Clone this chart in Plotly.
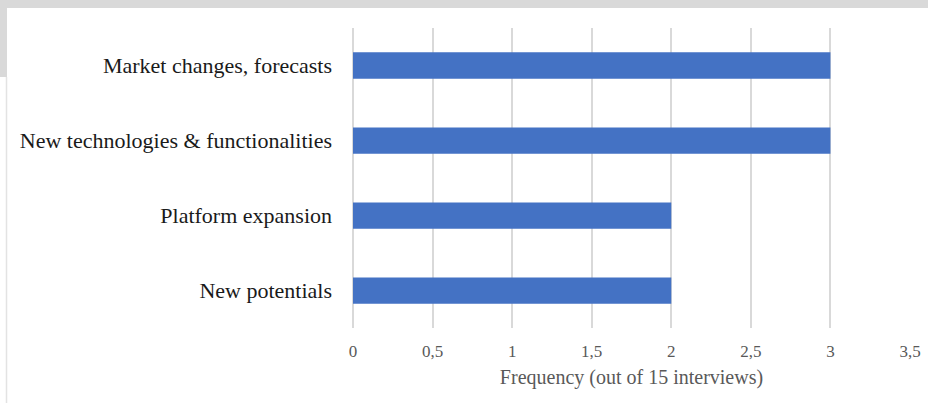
import plotly.graph_objects as go

# Topics raised in interviews and how often each came up
topics = [
    "New potentials",
    "Platform expansion",
    "New technologies & functionalities",
    "Market changes, forecasts",
]
frequency = [2, 2, 3, 3]
tick_values = [0, 0.5, 1, 1.5, 2, 2.5, 3, 3.5]

W, H = 928, 403
L, R, T, B = 353, 18, 28, 75
pw, ph = W - L - R, H - T - B


def px_x(x):
    return (x - L) / pw


def px_y(y):
    return (H - B - y) / ph


fig = go.Figure(
    go.Bar(
        x=frequency,
        y=topics,
        orientation="h",
        marker=dict(color="#4472C4", line=dict(width=0)),
        width=0.35,
    )
)

frame = "#d9d9d9"
shapes = [
    # grey band across the top
    dict(type="rect", xref="paper", yref="paper",
         x0=px_x(0), x1=px_x(W), y0=px_y(8), y1=px_y(0),
         fillcolor=frame, line=dict(width=0), layer="below"),
    # grey block at the upper left
    dict(type="rect", xref="paper", yref="paper",
         x0=px_x(0), x1=px_x(7), y0=px_y(77), y1=px_y(8),
         fillcolor=frame, line=dict(width=0), layer="below"),
    # thin edge line down the left side
    dict(type="line", xref="paper", yref="paper",
         x0=px_x(6.5), x1=px_x(6.5), y0=px_y(77), y1=px_y(H),
         line=dict(color="#e3e3e3", width=1.5), layer="below"),
]

fig.update_layout(
    width=W, height=H,
    margin=dict(l=L, r=R, t=T, b=B, pad=0, autoexpand=False),
    paper_bgcolor="white",
    plot_bgcolor="white",
    separators=", ",
    showlegend=False,
    shapes=shapes,
    font=dict(family="Liberation Serif", color="#595959"),
    xaxis=dict(
        range=[0, 3.5],
        tickvals=tick_values,
        automargin=False,
        showgrid=True,
        gridcolor="#d9d9d9",
        gridwidth=1.5,
        zeroline=True,
        zerolinecolor="#d9d9d9",
        zerolinewidth=1.5,
        showline=False,
        ticks="",
        ticklabelstandoff=11,
        tickfont=dict(size=17, color="#595959"),
        title=dict(text="Frequency (out of 15 interviews)",
                   font=dict(size=20, color="#595959"), standoff=9),
    ),
    yaxis=dict(
        range=[-0.5, 3.5],
        automargin=False,
        showgrid=False,
        zeroline=False,
        showline=False,
        ticks="",
        ticklabelstandoff=20,
        tickfont=dict(size=22, color="#1a1a1a"),
    ),
)

fig.write_html("out.html")
